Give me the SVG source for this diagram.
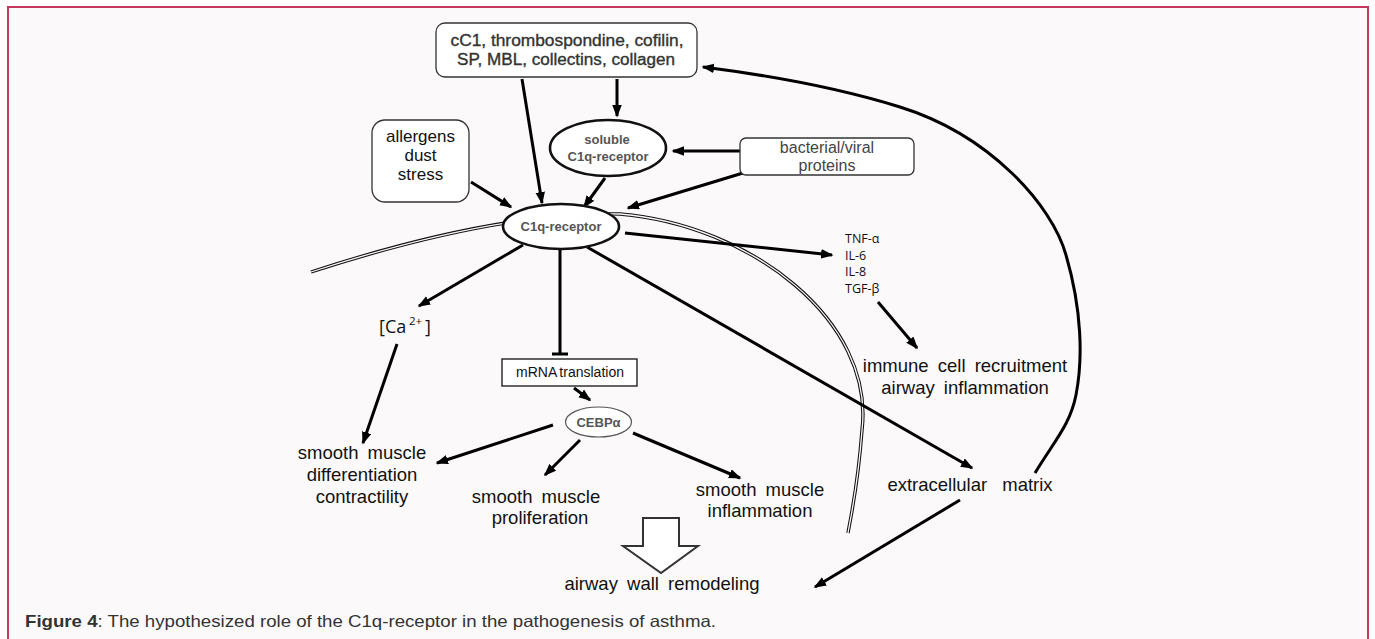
<svg xmlns="http://www.w3.org/2000/svg" width="1375" height="639" viewBox="0 0 1375 639">
<defs>
<style>
.lbl{font-family:"Liberation Sans",Arial,sans-serif;font-size:18.5px;fill:#111;text-anchor:middle;word-spacing:4px}
.box{fill:#fff;stroke:#333;stroke-width:1.3}
.ell{fill:#fff;stroke:#111;stroke-width:2.6}
.bold{font-family:"Liberation Sans",Arial,sans-serif;font-weight:bold;fill:#555;text-anchor:middle;font-size:13px}
.top{font-family:"Liberation Sans",Arial,sans-serif;fill:#333;text-anchor:middle;font-size:16px;stroke:#333;stroke-width:0.35}
.cyt{font-family:"Open Sans","Noto Sans",sans-serif;font-size:12.5px;fill:#111}
.arr{stroke:#000;stroke-width:3;fill:none;marker-end:url(#ah)}
.mem-o{fill:none;stroke:#111;stroke-width:3.4}
.mem-i{fill:none;stroke:#fbf9fa;stroke-width:1.3}
</style>
<marker id="ah" markerUnits="userSpaceOnUse" markerWidth="13" markerHeight="10" refX="11" refY="4.75" orient="auto">
<path d="M0,0 L12.5,4.75 L0,9.5 Z" fill="#000"/>
</marker>
</defs>
<rect x="0" y="0" width="1375" height="639" fill="#fff"/>
<rect x="8" y="7" width="1360" height="645" fill="#fbf9fa" stroke="#c7385f" stroke-width="2"/>

<g id="membrane">
<path class="mem-o" d="M311,272 C400,243 520,212 620,214 C750,225 875,320 862,430 C858,485 852,510 848,533"/>
<path class="mem-i" d="M311,272 C400,243 520,212 620,214 C750,225 875,320 862,430 C858,485 852,510 848,533"/>
</g>

<g id="connectors">
<line class="arr" x1="522" y1="79" x2="542" y2="203"/>
<line class="arr" x1="617" y1="79" x2="617" y2="116"/>
<line class="arr" x1="471" y1="182" x2="511" y2="207"/>
<line class="arr" x1="605" y1="178" x2="584" y2="207"/>
<line class="arr" x1="740" y1="151" x2="673" y2="151"/>
<line class="arr" x1="743" y1="173" x2="628" y2="208"/>
<line class="arr" x1="625" y1="233" x2="832" y2="255"/>
<line class="arr" x1="523" y1="245" x2="419" y2="306"/>
<line x1="560" y1="249" x2="560" y2="354" stroke="#000" stroke-width="3"/>
<line x1="552" y1="354" x2="568" y2="354" stroke="#000" stroke-width="3"/>
<line class="arr" x1="587" y1="247" x2="972" y2="468"/>
<line class="arr" x1="878" y1="302" x2="917" y2="348"/>
<line class="arr" x1="397" y1="344" x2="363" y2="443"/>
<line class="arr" x1="574" y1="388" x2="590" y2="400"/>
<line class="arr" x1="553" y1="425" x2="437" y2="463"/>
<line class="arr" x1="580" y1="440" x2="545" y2="475"/>
<line class="arr" x1="633" y1="433" x2="740" y2="478"/>
<line class="arr" x1="960" y1="500" x2="815" y2="587"/>
<path class="arr" d="M1035,473 C1055,440 1070,425 1076,395 C1083,359 1082,310 1066,255 C1052,205 990,135 900,107 C855,93 790,78 703,67"/>
</g>

<g id="ligands">
<rect class="box" x="436" y="23" width="261" height="54" rx="9"/>
<text class="top" x="567" y="46" textLength="233" lengthAdjust="spacingAndGlyphs">cC1, thrombospondine, cofilin,</text>
<text class="top" x="566" y="65" textLength="218" lengthAdjust="spacingAndGlyphs">SP, MBL, collectins, collagen</text>
</g>

<g id="allergens">
<rect class="box" x="372" y="120" width="97" height="82" rx="13"/>
<text class="lbl" style="font-size:17px" x="420.5" y="142">allergens</text>
<text class="lbl" style="font-size:17px" x="420.5" y="161">dust</text>
<text class="lbl" style="font-size:17px" x="420.5" y="180">stress</text>
</g>

<g id="soluble">
<ellipse class="ell" cx="608" cy="148" rx="58" ry="28"/>
<text class="bold" x="607" y="144">soluble</text>
<text class="bold" x="608" y="161">C1q-receptor</text>
</g>

<g id="bacterial">
<rect class="box" x="740" y="138" width="174" height="37" rx="6"/>
<text class="lbl" style="font-size:16px;fill:#444" x="827" y="153">bacterial/viral</text>
<text class="lbl" style="font-size:16px;fill:#444" x="827" y="171">proteins</text>
</g>

<g id="c1q">
<ellipse class="ell" cx="561" cy="226.5" rx="58" ry="22.5"/>
<text class="bold" x="561" y="231">C1q-receptor</text>
</g>

<g id="cytokines">
<text class="cyt" x="845" y="243">TNF-α</text>
<text class="cyt" x="845" y="260">IL-6</text>
<text class="cyt" x="845" y="276">IL-8</text>
<text class="cyt" x="845" y="293">TGF-β</text>
</g>

<g id="calcium">
<text font-family="'Open Sans','Noto Sans',sans-serif" font-size="18" fill="#111" x="379" y="333">[Ca<tspan font-size="11.5" dy="-8" x="409">2+</tspan><tspan dy="8" x="425">]</tspan></text>
</g>

<g id="mrna">
<rect x="502" y="359" width="135" height="27" fill="#fff" stroke="#111" stroke-width="1.3"/>
<text class="lbl" style="font-size:14px;word-spacing:-1px" x="570" y="377">mRNA translation</text>
</g>

<g id="cebp">
<ellipse cx="598.5" cy="422" rx="33" ry="15" fill="#fff" stroke="#555" stroke-width="1.2"/>
<text class="bold" x="598.5" y="427">CEBPα</text>
</g>

<g id="differentiation">
<text class="lbl" x="362" y="459">smooth muscle</text>
<text class="lbl" x="362" y="481">differentiation</text>
<text class="lbl" x="362" y="503">contractility</text>
</g>

<g id="proliferation">
<text class="lbl" x="536" y="503">smooth muscle</text>
<text class="lbl" x="540" y="524">proliferation</text>
</g>

<g id="inflammation">
<text class="lbl" x="760" y="496">smooth muscle</text>
<text class="lbl" x="760" y="517">inflammation</text>
</g>

<g id="immune">
<text class="lbl" x="965" y="372">immune cell recruitment</text>
<text class="lbl" x="965" y="394">airway inflammation</text>
</g>

<g id="ecm">
<text class="lbl" style="word-spacing:10px" x="970" y="491">extracellular matrix</text>
</g>

<g id="remodeling-arrow">
<path d="M643,518 L679,518 L679,546 L698,546 L661,573 L623,546 L643,546 Z" fill="#fff" stroke="#333" stroke-width="2"/>
</g>

<g id="remodeling">
<text class="lbl" x="662" y="590">airway wall remodeling</text>
</g>

<g id="caption">
<text font-family="'Liberation Sans',Arial,sans-serif" font-size="16.5" fill="#333" x="25" y="627" textLength="691" lengthAdjust="spacingAndGlyphs"><tspan font-weight="bold">Figure 4</tspan>: The hypothesized role of the C1q-receptor in the pathogenesis of asthma.</text>
</g>
</svg>
